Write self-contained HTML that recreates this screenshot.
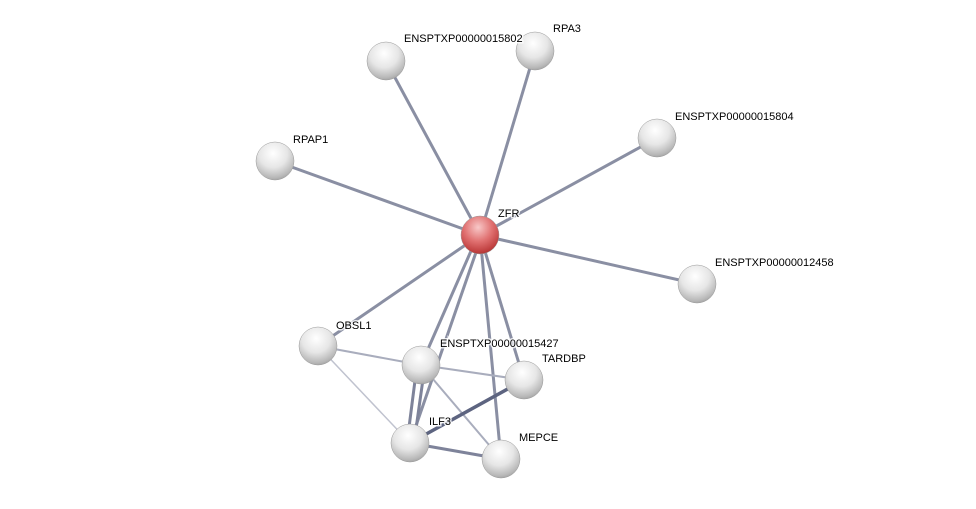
<!DOCTYPE html>
<html><head><meta charset="utf-8"><style>
html,body{margin:0;padding:0;background:#fff;}
text{font-family:"Liberation Sans",sans-serif;font-size:11px;fill:#000;}
</style></head><body>
<svg width="976" height="504" viewBox="0 0 976 504" xmlns="http://www.w3.org/2000/svg">
<defs>
<radialGradient id="g" cx="0.45" cy="0.3" r="0.75">
<stop offset="0" stop-color="#ffffff"/><stop offset="0.5" stop-color="#e6e6e6"/><stop offset="0.85" stop-color="#b8b8b8"/><stop offset="1" stop-color="#9a9a9a"/>
</radialGradient>
<radialGradient id="r" cx="0.45" cy="0.3" r="0.75">
<stop offset="0" stop-color="#f8c8c8"/><stop offset="0.5" stop-color="#e07070"/><stop offset="0.85" stop-color="#c04040"/><stop offset="1" stop-color="#a03030"/>
</radialGradient>
</defs>
<g stroke="#8a8fa3" stroke-width="3" stroke-linecap="round">
<line x1="480" y1="235" x2="386" y2="61"/>
<line x1="480" y1="235" x2="535" y2="51"/>
<line x1="480" y1="235" x2="657" y2="138"/>
<line x1="480" y1="235" x2="275" y2="161"/>
<line x1="480" y1="235" x2="697" y2="284"/>
<line x1="480" y1="235" x2="318" y2="346"/>
<line x1="478" y1="235" x2="421" y2="365"/>
<line x1="482" y1="235" x2="410" y2="443"/>
<line x1="480" y1="235" x2="524" y2="380"/>
<line x1="480" y1="235" x2="501" y2="459"/>
</g>
<g stroke-linecap="round">
<line x1="318" y1="346" x2="421" y2="365" stroke="#a9adbd" stroke-width="2"/>
<line x1="421" y1="365" x2="524" y2="380" stroke="#a9adbd" stroke-width="2"/>
<line x1="318" y1="346" x2="410" y2="443" stroke="#c0c3cf" stroke-width="1.5"/>
<line x1="417" y1="365" x2="407" y2="443" stroke="#7e839a" stroke-width="3"/>
<line x1="425" y1="365" x2="414" y2="443" stroke="#7e839a" stroke-width="3"/>
<line x1="421" y1="365" x2="501" y2="459" stroke="#a9adbd" stroke-width="2"/>
<line x1="410" y1="443" x2="524" y2="380" stroke="#5d6480" stroke-width="3.5"/>
<line x1="410" y1="443" x2="501" y2="459" stroke="#7e839a" stroke-width="3"/>
</g>
<g stroke="#999" stroke-width="0.5">
<circle cx="386" cy="61" r="19" fill="url(#g)"/>
<circle cx="535" cy="51" r="19" fill="url(#g)"/>
<circle cx="657" cy="138" r="19" fill="url(#g)"/>
<circle cx="275" cy="161" r="19" fill="url(#g)"/>
<circle cx="697" cy="284" r="19" fill="url(#g)"/>
<circle cx="318" cy="346" r="19" fill="url(#g)"/>
<circle cx="421" cy="365" r="19" fill="url(#g)"/>
<circle cx="524" cy="380" r="19" fill="url(#g)"/>
<circle cx="410" cy="443" r="19" fill="url(#g)"/>
<circle cx="501" cy="459" r="19" fill="url(#g)"/>
<circle cx="480" cy="235" r="19" fill="url(#r)"/>
</g>
<g stroke="#fff" stroke-width="3" paint-order="stroke" stroke-opacity="0.8">
<text x="404" y="42">ENSPTXP00000015802</text>
<text x="553" y="32">RPA3</text>
<text x="675" y="120">ENSPTXP00000015804</text>
<text x="293" y="143">RPAP1</text>
<text x="498" y="217">ZFR</text>
<text x="715" y="266">ENSPTXP00000012458</text>
<text x="336" y="329">OBSL1</text>
<text x="440" y="347">ENSPTXP00000015427</text>
<text x="542" y="362">TARDBP</text>
<text x="429" y="425">ILF3</text>
<text x="519" y="441">MEPCE</text>
</g>
</svg>
</body></html>
